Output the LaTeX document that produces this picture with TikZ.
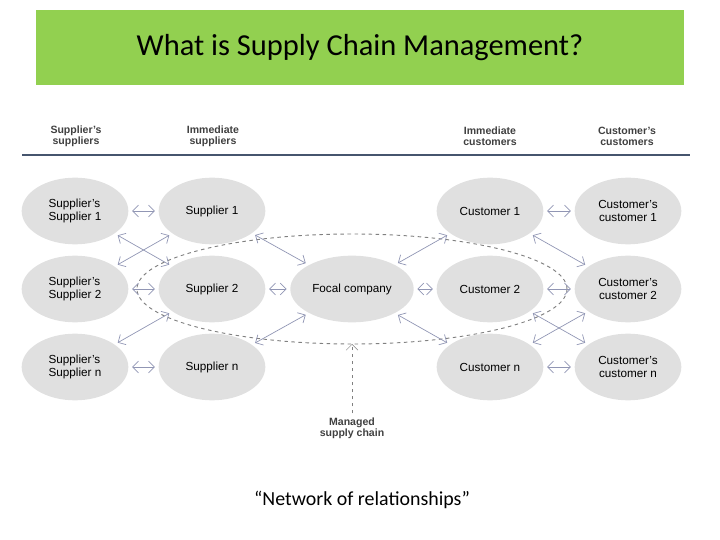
\documentclass[tikz,border=0pt]{standalone}
\usepackage{fontspec}
\setmainfont{Liberation Sans}
\newfontfamily\titlefont{Carlito}
\usetikzlibrary{shapes.geometric, arrows.meta, positioning}
\definecolor{titlegreen}{RGB}{146,208,80}
\definecolor{bubble}{RGB}{224,224,224}
\definecolor{link}{RGB}{145,150,180}
\definecolor{rule}{RGB}{70,85,110}

\begin{document}
\begin{tikzpicture}[x=0.03cm, y=-0.03cm,
        party/.style={ellipse, fill=bubble, minimum width=3.2cm, minimum height=2cm, align=left, font=\fontsize{10}{11}\selectfont},
        head/.style={align=center, font=\bfseries\fontsize{9}{9.5}\selectfont, text=black!75},
        arrow/.style={{Straight Barb[length=5pt]}-{Straight Barb[length=5pt]}, link, semithick}]

    \useasboundingbox (0,0) rectangle (720,540);

    % Title
    \node[fill=titlegreen, minimum width=19.44cm, minimum height=2.25cm, font=\titlefont\fontsize{26}{30}\selectfont] (title) at (360,47.5) {What is Supply Chain Management?};

    % Column headers
    \node[head] (hss) at (76,136) {Supplier's\\suppliers};
    \node[head] (hs) at (213,136) {Immediate\\suppliers};
    \node[head] (hc) at (490,136) {Immediate\\customers};
    \node[head] (hcc) at (627,136) {Customer's\\customers};
    \draw[rule, line width=1.5pt] (22,155) -- (690,155);

    % Managed supply chain
    \draw[dashed, gray, thick] (352,289) ellipse (215 and 55);

    % Suppliers
    \node[party] (ss1) at (75,211) {Supplier's\\Supplier 1};
    \node[party] (ss2) at (75,289) {Supplier's\\Supplier 2};
    \node[party] (ssn) at (75,367) {Supplier's\\Supplier n};
    \node[party] (s1) at (212,211) {Supplier 1};
    \node[party] (s2) at (212,289) {Supplier 2};
    \node[party] (sn) at (212,367) {Supplier n};

    % Focal company
    \node[party] (focal) at (352,289) {Focal company};

    % Customers
    \node[party] (c1) at (490,211) {Customer 1};
    \node[party] (c2) at (490,289) {Customer 2};
    \node[party] (cn) at (490,367) {Customer n};
    \node[party, align=center] (cc1) at (628,211) {Customer's\\customer 1};
    \node[party, align=center] (cc2) at (628,289) {Customer's\\customer 2};
    \node[party, align=center] (ccn) at (628,367) {Customer's\\customer n};

    % Links
    \foreach \a/\b in {ss1/s1, ss2/s2, ssn/sn, ss1/s2, ss2/s1, ssn/s2,
                       s1/focal, s2/focal, sn/focal,
                       focal/c1, focal/c2, focal/cn,
                       c1/cc1, c2/cc2, cn/ccn, c1/cc2, c2/ccn, cn/cc2}
        \draw[arrow, shorten <=3pt, shorten >=3pt] (\a) -- (\b);

    % Label
    \node[head] (managed) at (352,428) {Managed\\supply chain};
    \coordinate (edge) at (352,344);
    \draw[dashed, gray, -{Straight Barb[length=5pt]}] (managed) -- (edge);

    \node[font=\titlefont\fontsize{17}{20}\selectfont] (motto) at (362,500) {“Network of relationships”};
\end{tikzpicture}
\end{document}
